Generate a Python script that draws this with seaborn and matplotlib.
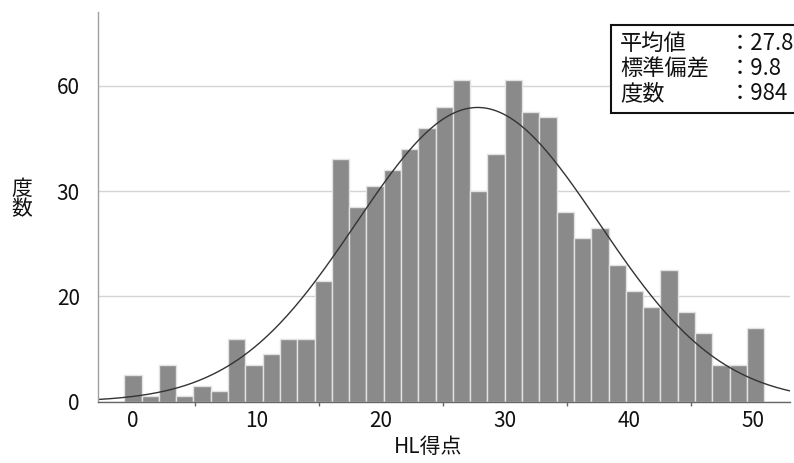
import numpy as np
import pandas as pd
import matplotlib
matplotlib.use('Agg')
import matplotlib.pyplot as plt
import seaborn as sns
from matplotlib.patches import Rectangle
from matplotlib.ticker import MultipleLocator

# 度数分布 (37 bins)
counts = [5, 1, 7, 1, 3, 2, 12, 7, 9, 12, 12, 23, 46, 37, 41, 44, 48, 52, 56,
          61, 40, 47, 61, 55, 54, 36, 31, 33, 26, 21, 18, 25, 17, 13, 7, 7, 14]
mean_val = 27.8
sd_val = 9.8
n_total = 984

stat_names = ['平均値', '標準偏差', '度数']
stat_values = ['27.8', '9.8', '984']

xtick_vals = [0, 10, 20, 30, 40, 50]
ytick_vals = [0, 20, 40, 60]
ytick_labels = ['0', '20', '30', '60']

bin_start = -0.7
bin_width = 1.395

sns.set_style('white')
plt.rcParams['font.family'] = ['Noto Sans CJK JP', 'DejaVu Sans']

edges = [bin_start + bin_width * i for i in range(len(counts) + 1)]
centers = [(edges[i] + edges[i + 1]) / 2 for i in range(len(counts))]
df = pd.DataFrame({'score': centers, 'count': counts})

fig = plt.figure(figsize=(7.94, 4.63), dpi=100)
ax = fig.add_axes([0.1234, 0.1324, 0.8716, 0.8416])

ax.set_axisbelow(True)
ax.grid(axis='y', color='#d4d4d4', linewidth=1)
sns.histplot(data=df, x='score', weights='count', bins=edges, ax=ax,
             color='#8a8a8a', alpha=1, edgecolor='#e2e2e2', linewidth=1)

# 正規曲線
xs = np.linspace(-2.82, 53.0, 400)
ys = n_total * bin_width * np.exp(-0.5 * ((xs - mean_val) / sd_val) ** 2) / (sd_val * np.sqrt(2 * np.pi))
sns.lineplot(x=xs, y=ys, ax=ax, color='#333333', linewidth=1)

ax.set_xlim(-2.82, 53.0)
ax.set_ylim(0, 74)
ax.set_xticks(xtick_vals)
ax.xaxis.set_minor_locator(MultipleLocator(10, offset=5))
ax.set_yticks(ytick_vals)
ax.set_yticklabels(ytick_labels)
ax.tick_params(axis='x', which='major', length=0, pad=6, labelsize=15, labelcolor='#111111')
ax.tick_params(axis='x', which='minor', length=3, width=1, color='#666666', direction='out', bottom=True)
ax.tick_params(axis='y', length=0, pad=13, labelsize=15, labelcolor='#111111')
ax.set_xlabel('')
ax.set_ylabel('')

for s in ['top', 'right']:
    ax.spines[s].set_visible(False)
ax.spines['left'].set_color('#a0a0a0')
ax.spines['bottom'].set_color('#666666')
ax.spines['left'].set_linewidth(1)
ax.spines['bottom'].set_linewidth(1)

fig.text(0.539, 0.034, 'HL得点', ha='center', va='center', fontsize=15, color='#111111')
fig.text(0.028, 0.57, '度\n数', ha='center', va='center', fontsize=15,
         color='#111111', linespacing=0.95)

# 統計量ボックス
fig.patches.append(Rectangle((0.7695, 0.756), 0.25, 0.19, transform=fig.transFigure,
                             facecolor='white', edgecolor='#111111', linewidth=1.5,
                             zorder=5, clip_on=False))
row_y = [0.907, 0.851, 0.797]
for name, val, y in zip(stat_names, stat_values, row_y):
    fig.text(0.781, y, name, ha='left', va='center', fontsize=16, color='#111111', zorder=6)
    fig.text(0.918, y, '：' + val, ha='left', va='center', fontsize=16, color='#111111', zorder=6)

fig.savefig('out.png', dpi=100)
